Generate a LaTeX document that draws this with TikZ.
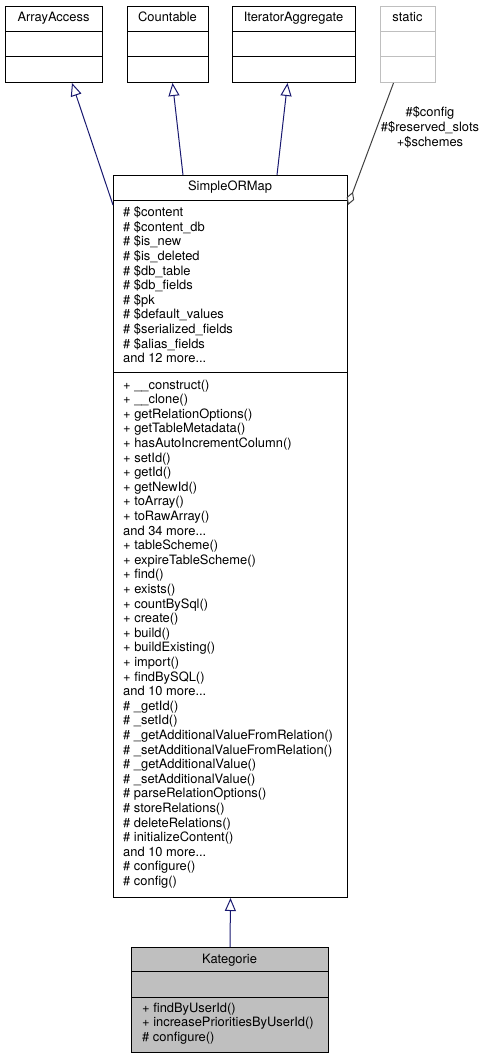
\documentclass[tikz,border=0pt]{standalone}
\usepackage{fontspec}
\setmainfont{TeX Gyre Heros}
\usetikzlibrary{arrows.meta,calc}
\definecolor{edgeblue}{HTML}{191970}
\definecolor{edgegray}{HTML}{404040}
\definecolor{boxgray}{HTML}{BFBFBF}
\definecolor{lightborder}{HTML}{BFBFBF}
\newcommand{\tdots}{...}
\tikzset{
  cls/.style={draw=black, line width=1pt, inner sep=0pt, anchor=north west},
  txt/.style={anchor=base west, inner sep=0pt},
  ttl/.style={anchor=base, inner sep=0pt},
  sep/.style={draw=black, line width=1pt},
  inh/.style={draw=edgeblue, line width=1pt, -{Triangle[open, length=13pt, width=11pt]}},
  agg/.style={draw=edgegray, line width=1pt, -{Diamond[open, length=14pt, width=8pt]}}
}
\begin{document}
\begin{tikzpicture}[x=1pt, y=-1pt, font=\fontsize{12.9}{14.6}\selectfont]
\useasboundingbox (0,0) rectangle (486,1059);

% interface boxes
\node[cls, minimum width=97pt, minimum height=76pt] (aa) at (5,6) {};
\node[cls, minimum width=81pt, minimum height=76pt] (ct) at (127,6) {};
\node[cls, minimum width=123pt, minimum height=76pt] (ia) at (232,6) {};
\node[cls, draw=lightborder, minimum width=55pt, minimum height=76pt] (st) at (380,6) {};
\foreach \n in {aa,ct,ia} {
  \draw[sep] ([yshift=-25.5pt]\n.north west) -- ([yshift=-25.5pt]\n.north east);
  \draw[sep] ([yshift=-51pt]\n.north west) -- ([yshift=-51pt]\n.north east);
}
\draw[sep, draw=lightborder] ([yshift=-25.5pt]st.north west) -- ([yshift=-25.5pt]st.north east);
\draw[sep, draw=lightborder] ([yshift=-51pt]st.north west) -- ([yshift=-51pt]st.north east);
\node[ttl] (aat) at (53.5,21.5) {ArrayAccess};
\node[ttl] (ctt) at (167.5,21.5) {Countable};
\node[ttl] (iat) at (293.5,21.5) {IteratorAggregate};
\node[ttl] (stt) at (407.5,21.5) {static};

% SimpleORMap
\node[cls, minimum width=234pt, minimum height=722pt] (sorm) at (113,175) {};
\draw[sep] ([yshift=-25.5pt]sorm.north west) -- ([yshift=-25.5pt]sorm.north east);
\draw[sep] ([yshift=-197pt]sorm.north west) -- ([yshift=-197pt]sorm.north east);
\node[ttl] (sormt) at (230,191) {SimpleORMap};
\foreach \t [count=\i from 0] in {
  \# \$content, \# \$content\_db, \# \$is\_new, \# \$is\_deleted, \# \$db\_table,
  \# \$db\_fields, \# \$pk, \# \$default\_values, \# \$serialized\_fields,
  \# \$alias\_fields, and 12 more\tdots}
  \node[txt] (sa\i) at (123,{216.5+14.63*\i}) {\t};
\foreach \t [count=\i from 0] in {
  + \_\_construct(), + \_\_clone(), + getRelationOptions(), + getTableMetadata(),
  + hasAutoIncrementColumn(), + setId(), + getId(), + getNewId(), + toArray(),
  + toRawArray(), and 34 more\tdots, + tableScheme(), + expireTableScheme(),
  + find(), + exists(), + countBySql(), + create(), + build(), + buildExisting(),
  + import(), + findBySQL(), and 10 more\tdots, \# \_getId(), \# \_setId(),
  \# \_getAdditionalValueFromRelation(), \# \_setAdditionalValueFromRelation(),
  \# \_getAdditionalValue(), \# \_setAdditionalValue(), \# parseRelationOptions(),
  \# storeRelations(), \# deleteRelations(), \# initializeContent(),
  and 10 more\tdots, \# configure(), \# config()}
  \node[txt] (sm\i) at (123,{389+14.6*\i}) {\t};

% Kategorie
\node[cls, fill=boxgray, minimum width=197pt, minimum height=105pt] (kat) at (131,947) {};
\draw[sep] ([yshift=-24pt]kat.north west) -- ([yshift=-24pt]kat.north east);
\draw[sep] ([yshift=-50pt]kat.north west) -- ([yshift=-50pt]kat.north east);
\node[ttl] (katt) at (229.5,963.5) {Kategorie};
\node[txt] (km0) at (142,1012.3) {+ findByUserId()};
\node[txt] (km1) at (142,1026.7) {+ increasePrioritiesByUserId()};
\node[txt] (km2) at (142,1041) {\# configure()};

% connectors
\draw[inh] ([yshift=-30pt]sorm.north west) -- ([xshift=18pt]aa.south);
\draw[inh] ([xshift=70pt]sorm.north west) -- ([xshift=4.5pt]ct.south);
\draw[inh] ([xshift=164pt]sorm.north west) -- ([xshift=-6.5pt]ia.south);
\draw[agg] ([xshift=-14.5pt]st.south) -- ([yshift=-30pt]sorm.north east);
\node[align=center, anchor=north, inner sep=0pt] (lbl) at (430,106.5)
  {\strut\#\$config\\\#\$reserved\_slots\\+\$schemes};
\draw[inh] (kat.north) -- (sorm.south);
\end{tikzpicture}
\end{document}
